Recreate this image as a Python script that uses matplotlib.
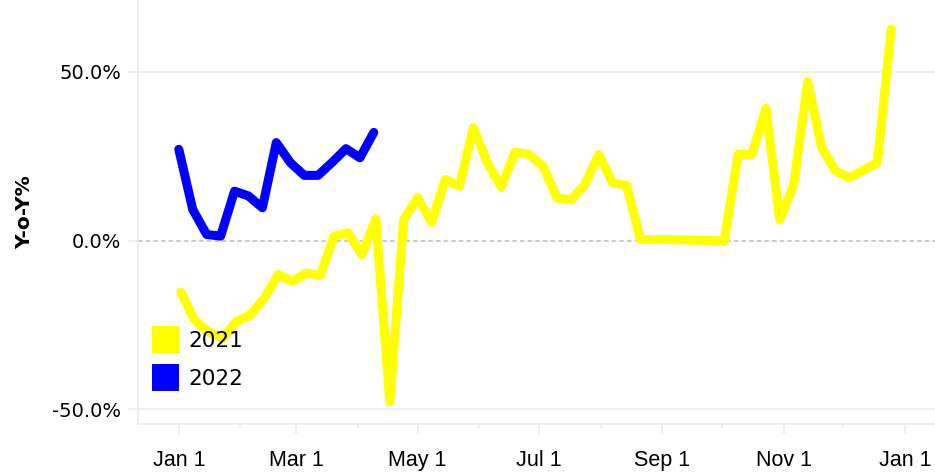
import numpy as np
import pandas as pd
import matplotlib
matplotlib.use('Agg')
import matplotlib.pyplot as plt
import matplotlib.dates as mdates
from matplotlib.patches import Patch

# weekly Y-o-Y % values
yoy_2021 = [-15.3, -23.6, -27.0, -29.0, -23.9, -22.0, -17.0, -10.1, -12.1, -9.6,
            -10.4, 1.3, 2.3, -4.2, 6.4, -47.7, 6.2, 12.7, 5.4, 18.1,
            16.1, 33.4, 23.1, 15.9, 26.2, 25.5, 22.0, 12.7, 12.0, 16.6,
            25.5, 17.1, 16.3, 0.3, 0.3, 0.3, 0.2, 0.1, 0.0, -0.2,
            25.5, 25.5, 39.1, 6.2, 16.6, 47.0, 27.5, 20.6, 18.6, 20.8,
            23.1, 62.6]
yoy_2022 = [27.0, 9.2, 1.8, 1.3, 14.6, 13.2, 9.7, 29.0, 23.1, 19.3,
            19.3, 23.1, 27.2, 24.5, 32.0]

# both years drawn on one calendar year axis
dates_2021 = pd.date_range('2021-01-02', periods=len(yoy_2021), freq='7D')
dates_2022 = pd.date_range('2021-01-01', periods=len(yoy_2022), freq='7D')

series_labels = ['2021', '2022']
series_colors = ['#FFFF00', '#0000FF']
y_ticks = [-50, 0, 50]

fig = plt.figure(figsize=(9.35, 4.76), dpi=100)
ax = fig.add_axes([138/935, 52/476, 797/935, 424/476])

grid_col = '#EDEDED'
for yv in [-50, 50]:
    ax.axhline(yv, color=grid_col, lw=1.3, zorder=0)
ax.axhline(0, color='#BDBDBD', lw=1.1, ls=(0, (3, 2)), zorder=0)

ax.plot(dates_2021, yoy_2021, color=series_colors[0], lw=6.5,
        solid_capstyle='round', solid_joinstyle='round', zorder=2)
ax.plot(dates_2022, yoy_2022, color=series_colors[1], lw=6.5,
        solid_capstyle='round', solid_joinstyle='round', zorder=3)

ax.set_ylim(-54.3, 71.2)
ax.set_xlim(pd.Timestamp('2020-12-11 12:00'), pd.Timestamp('2022-01-16'))

for s in ['top', 'right']:
    ax.spines[s].set_visible(False)
ax.spines['left'].set_color(grid_col)
ax.spines['bottom'].set_color(grid_col)
ax.spines['left'].set_linewidth(1.3)
ax.spines['bottom'].set_linewidth(1.3)

ax.set_yticks(y_ticks)
ax.set_yticklabels(['%.1f%%' % v for v in y_ticks], fontsize=14, family='DejaVu Sans')
ax.tick_params(axis='y', length=7, color=grid_col, width=1.3, pad=5)

ax.xaxis.set_major_locator(mdates.MonthLocator(bymonth=[1, 3, 5, 7, 9, 11]))
ax.xaxis.set_minor_locator(mdates.MonthLocator(bymonth=[2, 4, 6, 8, 10, 12]))
ax.xaxis.set_major_formatter(mdates.DateFormatter('%b %-d'))
ax.tick_params(axis='x', which='major', length=7, color=grid_col, width=1.3,
               pad=12, labelsize=15.5)
ax.tick_params(axis='x', which='minor', length=3, color=grid_col, width=1.3)
for lab in ax.get_xticklabels():
    lab.set_family('Liberation Sans')

ax.set_ylabel('Y-o-Y%', fontsize=14.5, fontweight='bold', family='DejaVu Sans')
ax.yaxis.set_label_coords(-0.13, 0.5)

handles = [Patch(facecolor=c, edgecolor='none') for c in series_colors]
ax.legend(handles, series_labels, loc='lower left', bbox_to_anchor=(14/797, 33/424),
          frameon=False, fontsize=15.5, handlelength=1.26, handleheight=1.55,
          handletextpad=0.42, labelspacing=0.5, borderpad=0, borderaxespad=0)

fig.savefig('out.png', dpi=100)
